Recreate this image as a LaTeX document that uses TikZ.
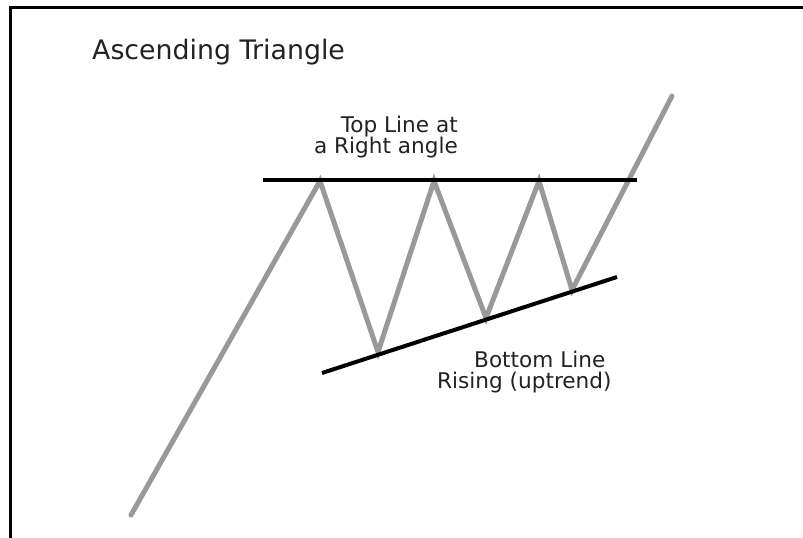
\documentclass[tikz,border=0pt]{standalone}
\usepackage{fontspec}
\setmainfont{DejaVu Sans}
\definecolor{zig}{HTML}{999999}
\definecolor{txt}{HTML}{222222}
\tikzset{
  zigline/.style={draw=zig, line width=5pt, line cap=round, line join=miter},
  trendline/.style={draw=black, line width=4pt},
  framel/.style={draw=black, line width=3pt},
  lbl/.style={inner sep=0pt, text=txt, font=\fontsize{21.6}{25}\selectfont},
  ttl/.style={inner sep=0pt, text=txt, font=\fontsize{26.8}{30}\selectfont},
}
\begin{document}
\begin{tikzpicture}[x=1pt,y=-1pt]
\useasboundingbox (0,0) rectangle (803,538);
\fill[white] (0,0) rectangle (803,538);
% frame (left and top edges)
\coordinate (fbl) at (10.5,538);
\coordinate (ftl) at (10.5,7.5);
\coordinate (ftr) at (803,7.5);
\draw[framel] (fbl) -- (ftl) -- (ftr);
% title
\node[ttl, anchor=base west] (title) at (92,59) {Ascending Triangle};
% trend lines
\coordinate (t1) at (263,180);
\coordinate (t2) at (637,180);
\coordinate (b1) at (322,373);
\coordinate (b2) at (617,277);
% zigzag
\coordinate (z0) at (131,515);
\coordinate (z1) at (320,181);
\coordinate (z2) at (378,352);
\coordinate (z3) at (434,181);
\coordinate (z4) at (486,318);
\coordinate (z5) at (539,181);
\coordinate (z6) at (572,290);
\coordinate (z7) at (672,96);
\draw[zigline] (z0) -- (z1) -- (z2) -- (z3) -- (z4) -- (z5) -- (z6) -- (z7);
\draw[trendline] (t1) -- (t2);
\draw[trendline] (b1) -- (b2);
% labels
\node[lbl, anchor=base east] (top1) at (458,132) {Top Line at};
\node[lbl, anchor=base east] (top2) at (458,153) {a Right angle};
\node[lbl, anchor=base west] (bot1) at (474,367) {Bottom Line};
\node[lbl, anchor=base west] (bot2) at (437,388) {Rising (uptrend)};
\end{tikzpicture}
\end{document}
